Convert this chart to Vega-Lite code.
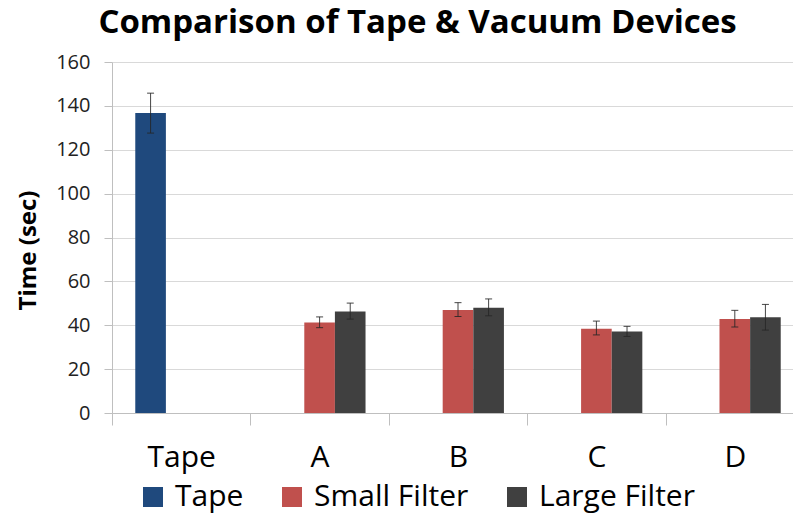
{
  "$schema": "https://vega.github.io/schema/vega-lite/v6.json",
  "width": 681,
  "height": 351,
  "autosize": {"type": "none"},
  "padding": {"left": 112, "top": 62, "right": 0, "bottom": 102},
  "background": "white",
  "config": {"view": {"stroke": null}, "font": "Open Sans"},
  "title": {
    "text": "Comparison of Tape & Vacuum Devices",
    "font": "Open Sans",
    "fontWeight": "bold",
    "fontSize": 33,
    "color": "#000000",
    "anchor": "middle",
    "frame": "group",
    "dx": -35,
    "dy": 15,
    "offset": 1,
    "baseline": "alphabetic"
  },
  "data": {
    "values": [
      {"device": "Tape", "filter": "Tape", "time": 136.7, "lo": 127.6, "hi": 145.8},
      {"device": "A", "filter": "Small Filter", "time": 41.3, "lo": 38.9, "hi": 43.8},
      {"device": "A", "filter": "Large Filter", "time": 46.3, "lo": 42.8, "hi": 50.1},
      {"device": "B", "filter": "Small Filter", "time": 46.9, "lo": 44.0, "hi": 50.3},
      {"device": "B", "filter": "Large Filter", "time": 48.0, "lo": 44.3, "hi": 52.0},
      {"device": "C", "filter": "Small Filter", "time": 38.4, "lo": 35.6, "hi": 41.9},
      {"device": "C", "filter": "Large Filter", "time": 37.2, "lo": 34.9, "hi": 39.5},
      {"device": "D", "filter": "Small Filter", "time": 42.8, "lo": 39.2, "hi": 46.8},
      {"device": "D", "filter": "Large Filter", "time": 43.6, "lo": 37.8, "hi": 49.5}
    ]
  },
  "encoding": {
    "x": {
      "field": "device",
      "type": "nominal",
      "sort": ["Tape", "A", "B", "C", "D"],
      "scale": {"range": [0, 692], "paddingInner": 0, "paddingOuter": 0},
      "axis": {
        "title": null,
        "labelAngle": 0,
        "labelFont": "Open Sans",
        "labelFontSize": 30,
        "labelColor": "#000000",
        "tickBand": "extent",
        "tickSize": 12,
        "tickColor": "#bfbfbf",
        "domainColor": "#bfbfbf",
        "labelPadding": 17,
        "grid": false
      }
    },
    "xOffset": {
      "field": "filter",
      "type": "nominal",
      "sort": ["Tape", "Small Filter", "Large Filter"],
      "scale": {"domain": ["Tape", "Small Filter", "Large Filter"], "paddingInner": 0, "paddingOuter": 0.76}
    }
  },
  "layer": [
    {
      "mark": {"type": "bar"},
      "encoding": {
        "y": {
          "field": "time",
          "type": "quantitative",
          "title": "Time (sec)",
          "scale": {"domain": [0, 160]},
          "axis": {
            "values": [0, 20, 40, 60, 80, 100, 120, 140, 160],
            "tickSize": 8,
            "tickColor": "#bfbfbf",
            "domainColor": "#bfbfbf",
            "gridColor": "#d9d9d9",
            "labelFont": "Open Sans",
            "labelFontSize": 20,
            "labelColor": "#222222",
            "labelPadding": 14,
            "titleFont": "Open Sans",
            "titleFontSize": 24,
            "titleFontWeight": "bold",
            "titleColor": "#000000",
            "titleAngle": -90,
            "titleAlign": "center",
            "titleBaseline": "middle",
            "titleX": -84,
            "titleY": 188
          }
        },
        "color": {
          "field": "filter",
          "type": "nominal",
          "scale": {"domain": ["Tape", "Small Filter", "Large Filter"], "range": ["#1F497D", "#C0504D", "#404040"]},
          "legend": {
            "orient": "none",
            "legendX": 26,
            "legendY": 420,
            "direction": "horizontal",
            "title": null,
            "symbolType": "square",
            "symbolSize": 400,
            "symbolStrokeWidth": 0,
            "symbolOpacity": 1,
            "labelFont": "Open Sans",
            "labelFontSize": 30,
            "labelLimit": 400,
            "labelColor": "#000000",
            "columnPadding": 33,
            "labelOffset": 7
          }
        }
      }
    },
    {
      "mark": {"type": "rule", "color": "#262626", "strokeWidth": 1, "opacity": 0.85},
      "encoding": {
        "y": {"field": "lo", "type": "quantitative", "title": "Time (sec)"},
        "y2": {"field": "hi"}
      }
    },
    {
      "mark": {"type": "tick", "color": "#262626", "size": 7, "thickness": 1, "opacity": 0.85},
      "encoding": {"y": {"field": "hi", "type": "quantitative", "title": "Time (sec)"}}
    },
    {
      "mark": {"type": "tick", "color": "#262626", "size": 7, "thickness": 1, "opacity": 0.85},
      "encoding": {"y": {"field": "lo", "type": "quantitative", "title": "Time (sec)"}}
    }
  ]
}
